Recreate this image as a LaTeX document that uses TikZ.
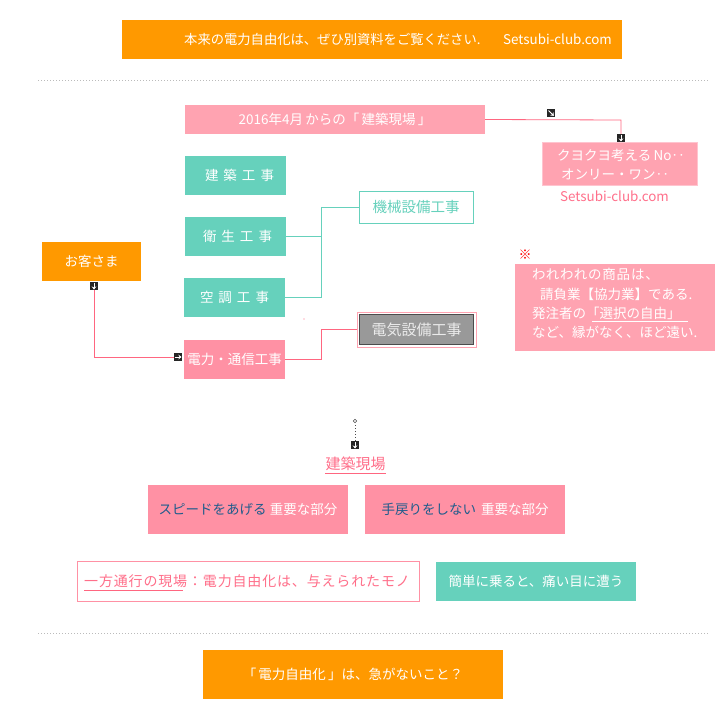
\documentclass[tikz,border=0pt]{standalone}
\usepackage{fontspec}
\setmainfont{Noto Sans CJK JP}
\usetikzlibrary{arrows.meta}
\definecolor{orng}{HTML}{FF9900}
\definecolor{pinkA}{HTML}{FFA3B1}
\definecolor{pinkB}{HTML}{FF91A4}
\definecolor{pinkE}{HTML}{FFC4CF}
\definecolor{tealA}{HTML}{66D1BC}
\definecolor{lineP}{HTML}{FF6680}
\definecolor{txtP}{HTML}{FF6F8A}
\definecolor{navyA}{HTML}{1F5C8C}
\definecolor{grayA}{HTML}{999999}
\definecolor{dotG}{HTML}{BBBBBB}
\newfontfamily\spacedfont[LetterSpace=6]{Noto Sans CJK JP}
\begin{document}
\begin{tikzpicture}[x=1pt,y=-1pt,
  every node/.style={font=\fontsize{13.5}{16}\selectfont},
  fbox/.style={fill=#1,draw=none,inner sep=0pt,text=white},
  obox/.style={fill=white,draw=#1,line width=0.8pt,inner sep=0pt},
  plain/.style={inner sep=0pt},
  icon/.style={fill=black!85,inner sep=0pt,minimum size=8pt},
  iarr/.style={white,line width=0.9pt,-{Stealth[length=3pt,width=4.5pt]}},
  pline/.style={lineP,line width=0.8pt},
  tline/.style={tealA,line width=0.8pt},
  dline/.style={dotG,line width=1pt,dotted}]
\useasboundingbox (0,0) rectangle (720,720);

% top bar
\node[fbox=orng,minimum width=500pt,minimum height=39pt] (top) at (372,39.5) {};
\node[plain,text=white,anchor=west,font=\fontsize{13.3}{16}\selectfont] (toptxt) at (184,39.5) {本来の電力自由化は、ぜひ別資料をご覧ください.};
\node[plain,text=white,anchor=west,font=\fontsize{13.4}{16}\selectfont] (topurl) at (503,39.5) {Setsubi-club.com};

\draw[dline] (38,80) -- (708,80);

% 2016 bar
\node[fbox=pinkA,minimum width=300pt,minimum height=29pt] (y2016) at (335,119.5) {2016年4月\,からの「\,建築現場\,」};

% right box
\node[fill=pinkA,draw=pinkE,line width=0.8pt,inner sep=0pt,minimum width=155pt,minimum height=43pt] (kuyo) at (619.5,163.5) {};
\node[plain,text=white,anchor=west] (kuyo1) at (557,155) {クヨクヨ考える\,No‥};
\node[plain,text=white,anchor=west] (kuyo2) at (561,174) {オンリー・ワン‥};
\node[plain,text=txtP,anchor=west,font=\fontsize{13.4}{16}\selectfont] (url2) at (560,196.5) {Setsubi-club.com};

\node[icon] (i1) at (551,113) {};
\draw[iarr] ([shift={(-2.5,-2.5)}]i1.center) -- ([shift={(2.8,2.8)}]i1.center);
\node[icon] (i2) at (621,138) {};
\draw[iarr] ([shift={(0,-3.5)}]i2.center) -- ([shift={(0,3.5)}]i2.center);
\draw[pline] (y2016.east) -- (621,120) -- (i2.north);

% work boxes
\node[fbox=tealA,minimum width=101pt,minimum height=39pt] (kenchiku) at (235.5,175.5) {\hspace{8pt}建\hspace{5pt}築\hspace{5pt}工\hspace{5pt}事};
\node[fbox=tealA,minimum width=101pt,minimum height=39pt] (eisei) at (235.5,236.5) {\hspace{4pt}衛\hspace{5pt}生\hspace{5pt}工\hspace{5pt}事};
\node[fbox=tealA,minimum width=101pt,minimum height=39pt] (kucho) at (234.5,297.5) {空\hspace{5pt}調\hspace{5pt}工\hspace{5pt}事};
\node[fbox=pinkB,minimum width=101pt,minimum height=39pt] (denryoku) at (234.5,359.5) {電力・通信工事};

% customer
\node[fbox=orng,minimum width=99pt,minimum height=39pt] (okyaku) at (91.5,261.5) {お客さま};
\node[icon] (i3) at (94,286) {};
\draw[iarr] ([shift={(0,-3.5)}]i3.center) -- ([shift={(0,3.5)}]i3.center);
\node[icon] (i4) at (178,357) {};
\draw[iarr] ([shift={(-3.5,0)}]i4.center) -- ([shift={(3.5,0)}]i4.center);
\draw[pline] (i3.south) -- (94,357) -- (i4.west);

% equipment boxes
\node[obox=tealA,minimum width=114pt,minimum height=32pt,text=tealA,font=\fontsize{14.5}{17}\selectfont] (kikai) at (416,207) {機械設備工事};
\draw[pinkA,line width=0.8pt] (357,312) rectangle (476,347);
\node[fill=grayA,draw=black!70,line width=0.8pt,inner sep=0pt,minimum width=114pt,minimum height=30pt,text=white!92!black,font=\fontsize{15}{17}\selectfont] (denki) at (416.5,329.5) {電気設備工事};

\draw[tline] (eisei.east) -- (321,236.5);
\draw[tline] (kucho.east) -- (321,297.5) -- (321,207) -- (kikai.west);
\draw[pline] (denryoku.east) -- (321,359.5) -- (321,329.5) -- (357,329.5);
\fill[lineP] (304,319) circle (0.6pt);

% note box
\node[plain,text=red,font=\fontsize{13}{15}\selectfont] (kome) at (525,255) {※};
\node[fbox=pinkA,minimum width=200pt,minimum height=87pt] (note) at (615,307.5) {};
\node[plain,text=white,anchor=west,font=\spacedfont\fontsize{13.5}{16}\selectfont] (n1) at (532,274) {われわれの商品は、};
\node[plain,text=white,anchor=west] (n2) at (540,294) {請負業【協力業】である.};
\node[plain,text=white,anchor=west] (n3) at (532,313) {発注者の「選択の自由」};
\node[plain,text=white,anchor=west] (n4) at (532,332) {など、縁がなく、ほど遠い.};
\draw[white,line width=0.6pt] (592,321) -- (688,321);

% middle
\draw[black!70,line width=0.5pt] (355,421) circle (1.8pt);
\node[icon] (i5) at (355,445) {};
\draw[iarr] ([shift={(0,-3.5)}]i5.center) -- ([shift={(0,3.5)}]i5.center);
\draw[black!70,line width=1pt,dotted] (355,425) -- (i5.north);
\node[plain,text=txtP,font=\fontsize{15}{17}\selectfont] (genba) at (355.5,464) {建築現場};
\draw[lineP,line width=0.7pt] (325,473.5) -- (386,473.5);

\node[fbox=pinkB,minimum width=200pt,minimum height=49pt] (speed) at (248,509.5) {\textcolor{navyA}{スピードをあげる} 重要な部分};
\node[fbox=pinkB,minimum width=200pt,minimum height=49pt] (temodori) at (465,509.5) {\textcolor{navyA}{手戻りをしない}\hspace{5pt}重要な部分};

\node[obox=pinkB,minimum width=342pt,minimum height=40pt] (ippo) at (248,581) {};
\node[plain,text=txtP,anchor=west,font=\spacedfont\fontsize{14}{16}\selectfont] (ippot) at (84,581) {一方通行の現場：電力自由化は、与えられたモノ};
\draw[lineP,line width=0.7pt] (84,590.5) -- (183,590.5);
\node[fbox=tealA,minimum width=200pt,minimum height=39pt] (kantan) at (536,581.5) {簡単に乗ると、痛い目に遭う};

\draw[dline] (38,633) -- (708,633);

\node[fbox=orng,minimum width=300pt,minimum height=49pt] (bottom) at (353,674.5) {「\,電力自由化\,」は、急がないこと？};
\end{tikzpicture}
\end{document}
